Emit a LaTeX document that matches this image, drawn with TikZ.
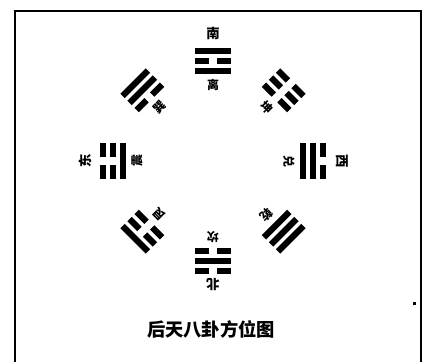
\documentclass[tikz,border=0pt]{standalone}
\usepackage{fontspec}
\newfontfamily\cjk{Noto Sans CJK SC}
\tikzset{%
  yao/.style={line width=4.4pt, line cap=butt},
  guaname/.style={font=\cjk\fontsize{8.5}{8.5}\selectfont\bfseries, inner sep=0pt},
  dirname/.style={font=\cjk\fontsize{9.5}{9.5}\selectfont\bfseries, inner sep=0pt},
  frame/.style={line width=1.4pt}
}

\begin{document}
\begin{tikzpicture}[x=0.025cm, y=0.025cm]
  \useasboundingbox (-213,-200) rectangle (212,161);
  \draw[frame] (-198,-205) -- (-198,150) -- (208,150) -- (208,-205);
  % the eight trigrams: angle/name/bottom/middle/top line
  \foreach \a/\id/\n/\b/\m/\t in {90/li/离/1/0/1, 45/kun/坤/0/0/0,
      0/dui/兑/1/1/0, -45/qian/乾/1/1/1, -90/kan/坎/0/1/0,
      -135/gen/艮/0/0/1, 180/zhen/震/1/0/0, 135/xun/巽/0/1/1}{
    \begin{scope}[shift={(\a:100)}, rotate=\a-90]
      \foreach \y/\v in {-10/\b, 0/\m, 10/\t}{
        \ifnum\v=1
          \draw[yao] (-18,\y) -- (18,\y);
        \else
          \draw[yao] (-18,\y) -- (-4,\y) (4,\y) -- (18,\y);
        \fi
      }
    \end{scope}
    \node[guaname, rotate=\a-90] (\id) at (\a:76) {\n};
  }
  % directions
  \node[dirname] (nan) at (90:128) {南};
  \node[dirname, rotate=-90] (xi) at (0:129) {西};
  \node[dirname, rotate=180] (bei) at (-90:124) {北};
  \node[dirname, rotate=90] (dong) at (180:128) {东};
  \node[font=\cjk\fontsize{13}{13}\selectfont\bfseries] (title) at (-2,-168) {后天八卦方位图};
  \fill (200,-141) rectangle (203,-144);
\end{tikzpicture}
\end{document}
